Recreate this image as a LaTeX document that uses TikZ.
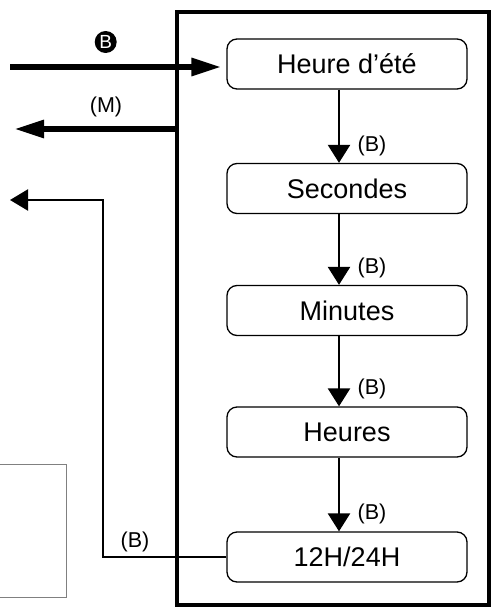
\documentclass[tikz,border=0pt]{standalone}
\usepackage{fontspec}
\setmainfont{Liberation Sans}
\usetikzlibrary{arrows.meta,calc}
\begin{document}
\begin{tikzpicture}[x=1pt,y=-1pt,
  framebox/.style={line width=4pt},
  modebox/.style={draw, line width=1.3pt, rounded corners=10pt, minimum width=240pt, minimum height=50pt, inner sep=0pt, font=\fontsize{27}{31}\selectfont},
  steparrow/.style={line width=2.5pt, -{Triangle[length=18pt,width=22pt]}},
  thickarrow/.style={line width=6pt, -{Triangle[length=30pt,width=17pt]}},
  thinarrow/.style={line width=2.2pt, -{Triangle[length=18pt,width=21pt]}},
  lbl/.style={font=\fontsize{21.5}{25}\selectfont, inner sep=0pt},
  ghost/.style={draw=black!50, line width=1pt}
]
\useasboundingbox (0,0) rectangle (493,607);
% frame
\draw[framebox] (177,12) rectangle (489,605);
% boxes
\node[modebox] (hed) at (347,64) {Heure d’été};
\node[modebox] (sec) at (347,188.5) {Secondes};
\node[modebox] (min) at (347,310.5) {Minutes};
\node[modebox] (hrs) at (347,432) {Heures};
\node[modebox] (fmt) at (347,557) {12H/24H};
% vertical step arrows
\foreach \a/\b in {hed/sec, sec/min, min/hrs, hrs/fmt}{
  \draw[steparrow] ([xshift=-8pt]\a.south) -- ([xshift=-8pt]\b.north);
  \node[lbl] at ([xshift=25pt,yshift=17pt]\b.north) {(B)};
}
% input arrow B
\coordinate (inB) at (10,67);
\draw[thickarrow] (inB) -- ([xshift=-5pt]inB -| hed.west);
\node[circle, fill=black, text=white, inner sep=0pt, minimum size=22pt, font=\fontsize{19}{22}\selectfont] (cb) at (105.7,42) {B};
% output arrow M
\coordinate (mStart) at (177,129);
\coordinate (mEnd) at (14,129);
\draw[thickarrow] (mStart) -- (mEnd);
\node[lbl] (mlbl) at (106,107) {(M)};
% return arrow
\coordinate (rc1) at (103,557);
\coordinate (rc2) at (103,200);
\coordinate (rEnd) at (10,200);
\draw[thinarrow] (fmt.west) -- (rc1) -- (rc2) -- (rEnd);
\node[lbl] (rlbl) at (135,542) {(B)};
% gray box
\draw[ghost] (0,464) -- (66,464) -- (66,597) -- (0,597);
\end{tikzpicture}
\end{document}
